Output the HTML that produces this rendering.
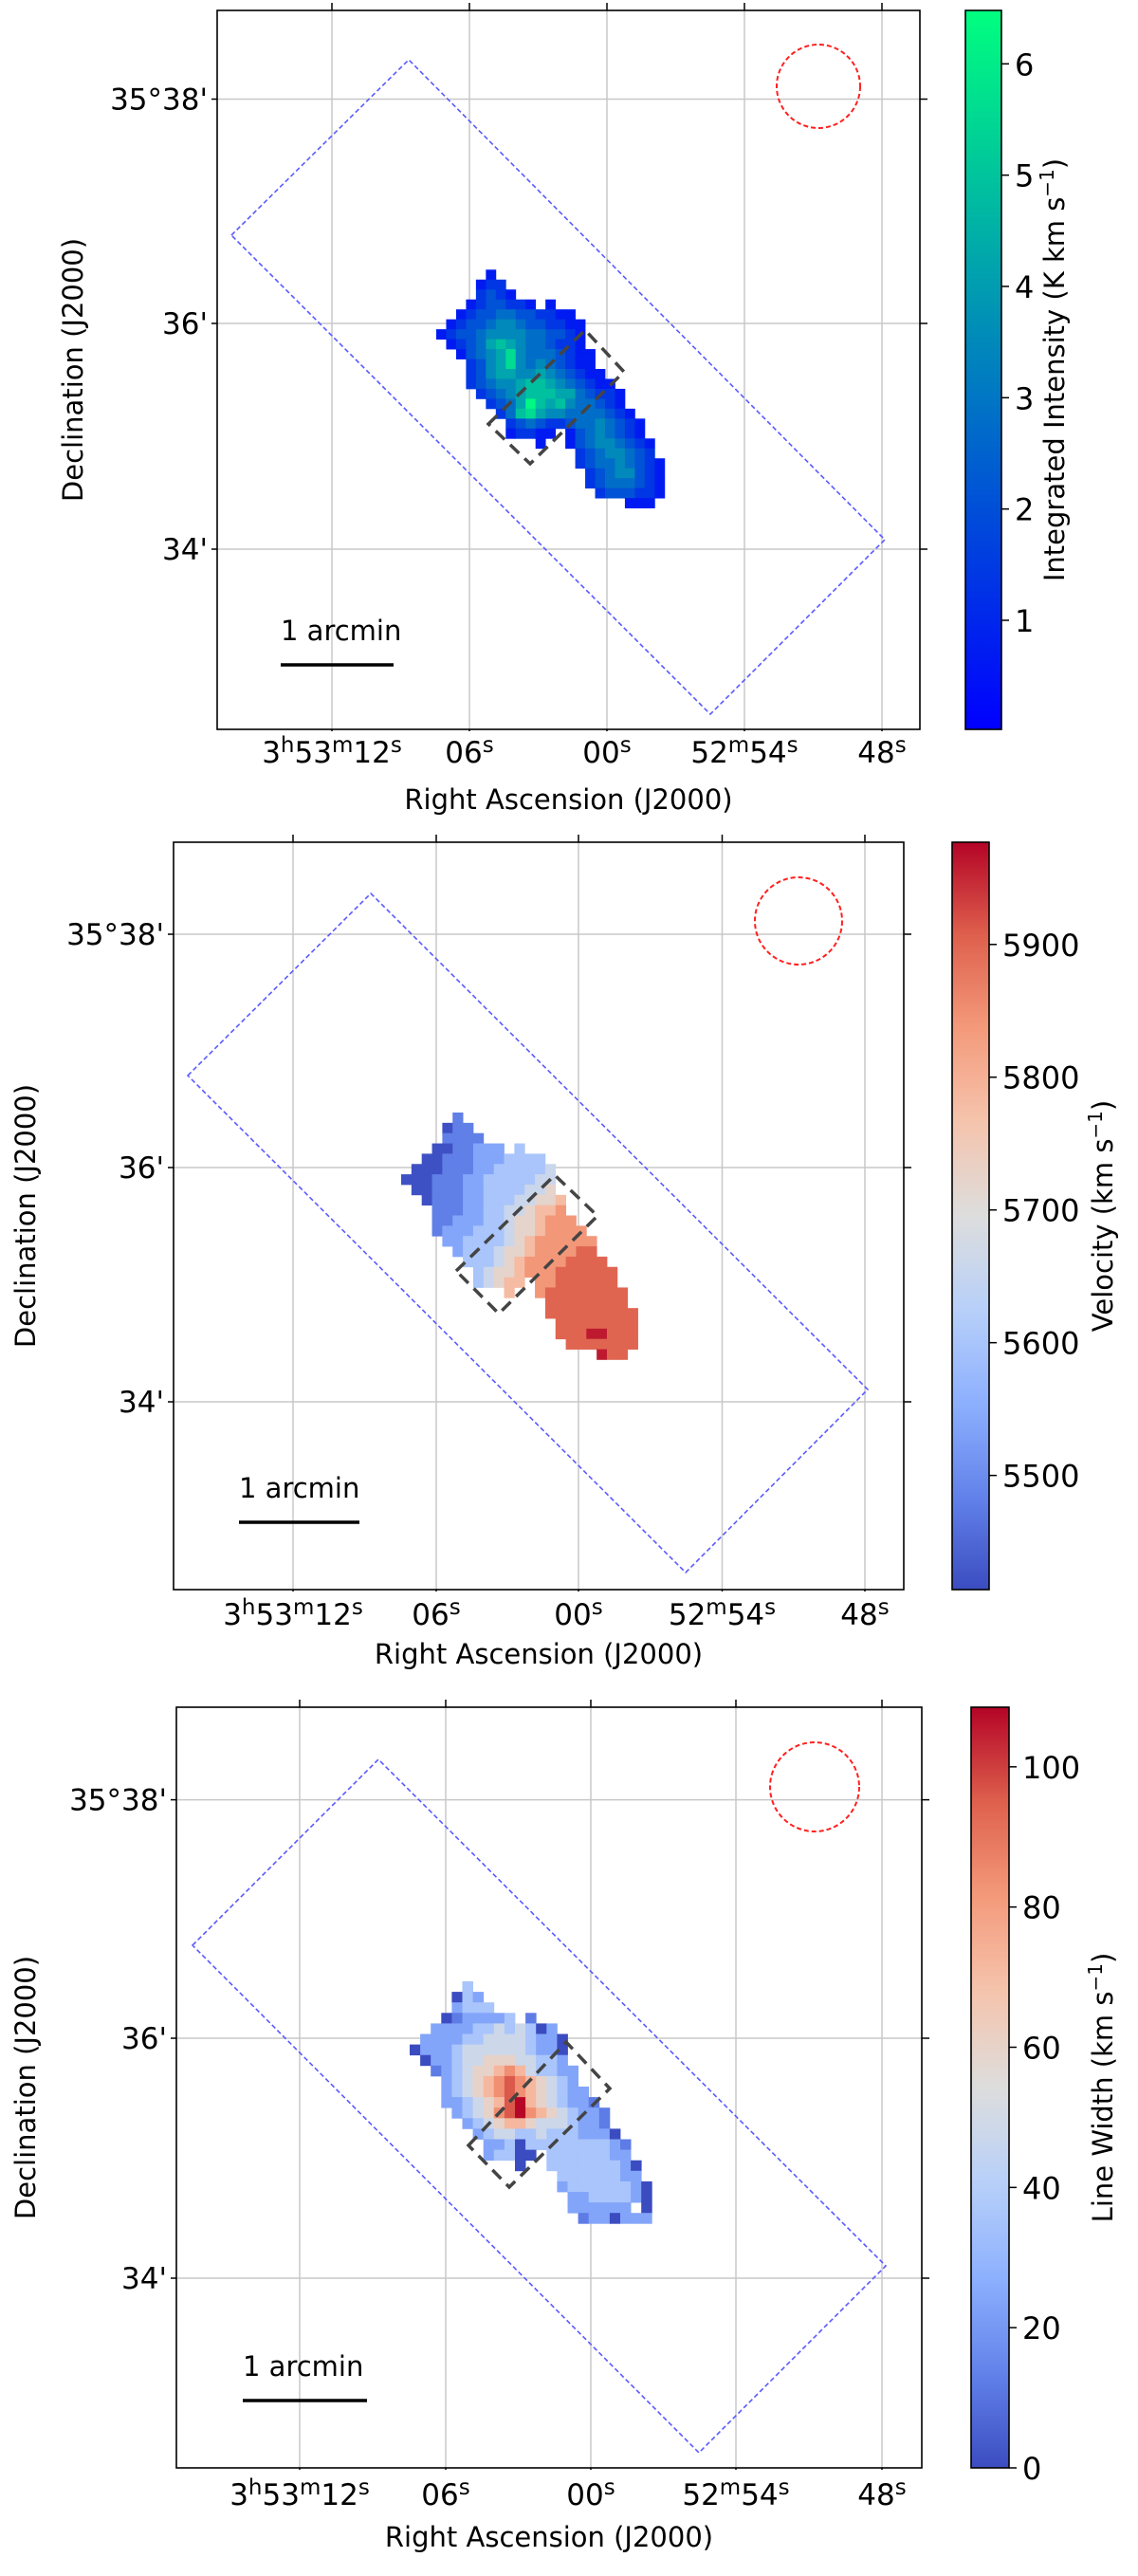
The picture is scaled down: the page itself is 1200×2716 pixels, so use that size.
<!DOCTYPE html>
<html><head><meta charset="utf-8">
<style>
html,body{margin:0;padding:0;background:#fff;}
svg text{font-family:"DejaVu Sans","Liberation Sans",sans-serif;fill:#000;}
</style></head>
<body>
<svg id="fig" xmlns="http://www.w3.org/2000/svg" width="1200" height="2711" viewBox="0 0 1200 2711"></svg>
<script>
// ---------- DATA ----------
const raTickLabels = ["3h53m12s","06s","00s","52m54s","48s"];
const decTickLabels = ["35°38'","36'","34'"];
// Panel 1: integrated intensity, digit d -> d*0.7 K km/s
const intensityRows = [
".....1.................",
"....122................",
"....2321...............",
"...1233221.1...........",
"..123344332211.........",
".12334554332211........",
"123345555443321........",
".12346765443221........",
"..13456854443211.......",
"...2356854543211.......",
"...23566556543211......",
"...234556776543211.....",
"....234567776643221....",
".....23469767544321....",
"......24786554444321...",
".......23432234454321..",
".......12211.13454321..",
"..........1..134554321.",
"..............23455432.",
"..............234454321",
"...............23455321",
"...............23444321",
"................2333221",
"...................111."];
const intensityStep = 0.7;
const intensityTicks = [1,2,3,4,5,6];
// Panel 2: velocity, digit d -> 5420 + d*60
const velocityRows = [
".....1.................",
"....011................",
"....1111...............",
"...0011222.3...........",
"..001112223333.........",
".00011122333334........",
"000111223333344........",
".00111223333445........",
"..01112233344556.......",
"...1112233445667.......",
"...11222334556777......",
"...122233345567777.....",
"....223333456777777....",
".....23334556777788....",
"......33345677778888...",
".......34556777888888..",
".......34566.77888888..",
"..........6..788888888.",
"..............88888888.",
"..............888888888",
"...............88888888",
"...............88899888",
"................8888888",
"...................988."];
const velocityBase = 5420, velocityStep = 60;
const velocityTicks = [5500,5600,5700,5800,5900];
// Panel 3: line width, digit d -> d*12
const widthRows = [
".....3.................",
"....032................",
"....2333...............",
"...0122223.1...........",
"..222233434302.........",
".22223344443220........",
"022234444443220........",
".02234455544332........",
"..12345567643322.......",
"...2345678765432.......",
"...23456787654322......",
"...223456896543221.....",
"....234578976543221....",
".....23456654443221....",
"......23443343332220...",
".......22303333333321..",
".......23300.33333322..",
"..........0..333333320.",
"..............33333322.",
"..............233333320",
"...............22333320",
"...............222222.0",
"................1220222",
"......................."];
const widthStep = 12;
const widthTicks = [0,20,40,60,80,100];

// ---------- COLORMAPS ----------
function winter(t){t=Math.max(0,Math.min(1,t));return [0,Math.round(255*t),Math.round(255*(1-0.5*t))];}
const cw=[[59,76,192],[98,130,234],[141,176,254],[184,208,249],[221,221,221],[245,196,173],[244,154,123],[222,96,77],[180,4,38]];
function coolwarm(t){t=Math.max(0,Math.min(1,t));const f=t*8,i=Math.min(7,Math.floor(f)),u=f-i;return cw[i].map((c,k)=>Math.round(c+(cw[i+1][k]-c)*u));}
const rgb=c=>`rgb(${c[0]},${c[1]},${c[2]})`;

// ---------- PANELS ----------
const panels=[
{key:"intensity",rows:intensityRows,val:d=>d*intensityStep,cmap:winter,vmin:0.02,vmax:6.48,ticks:intensityTicks,
 ax:[229,11,970,769],ra:[350,495,640,785,930],dec:[104.5,341,579],px:10.47,x0:460,y0:284.3,
 cb:[1018,11,1056,769],blue:[[244,248],[431,63],[933,569],[749,753]],circ:[863,91,44],
 box:[[515,447],[617,348],[658,392],[559,489]],bar:[296,415,701],ylx:77,tly:804,xly:853,cblx:1112,
 cblabel:["Integrated Intensity (K km s","−1",")"]},
{key:"velocity",rows:velocityRows,val:d=>velocityBase+d*velocityStep,cmap:coolwarm,vmin:5414,vmax:5977,ticks:velocityTicks,
 ax:[183,888,953,1676],ra:[309,460,610,761.5,912],dec:[985,1231,1478],px:10.85,x0:423,y0:1173,
 cb:[1004,888,1043,1676],blue:[[198,1134],[391,942],[915,1465],[723,1658]],circ:[842,971,46],
 box:[[481,1340],[585,1239],[630,1282],[526,1385]],bar:[252,379,1605],ylx:27,tly:1713,xly:1754,cblx:1163,
 cblabel:["Velocity (km s","−1",")"]},
{key:"linewidth",rows:widthRows,val:d=>d*widthStep,cmap:coolwarm,vmin:0,vmax:108.5,ticks:widthTicks,
 ax:[186,1800,972,2602],ra:[316,470,623,776,930],dec:[1897.6,2149,2402],px:11.1,x0:432,y0:2089,
 cb:[1024,1800,1064,2602],blue:[[203,2051],[399,1855],[934,2389],[737,2586]],circ:[859,1884,47],
 box:[[494,2262],[597,2153],[643,2202],[537,2306]],bar:[256,387,2531],ylx:27,tly:2641,xly:2685,cblx:1163,
 cblabel:["Line Width (km s","−1",")"]}
];

const NS="http://www.w3.org/2000/svg";
const svg=document.getElementById("fig");
function mk(tag,attrs,parent){const e=document.createElementNS(NS,tag);for(const k in attrs)e.setAttribute(k,attrs[k]);(parent||svg).appendChild(e);return e;}
const defs=mk("defs",{});

panels.forEach((P,pi)=>{
  const g=mk("g",{});
  
  
  const [L,T,R,B]=P.ax;
  const clipId="clip"+pi;
  const cp=mk("clipPath",{id:clipId},defs);mk("rect",{x:L,y:T,width:R-L,height:B-T},cp);
  P.ra.forEach(x=>{const l=mk("line",{x1:x,y1:T,x2:x,y2:B,stroke:"#c8c8c8","stroke-width":1.5},g);
    
    
    mk("line",{x1:x,y1:T,x2:x,y2:T-8,stroke:"#000","stroke-width":1.5},g);
    mk("line",{x1:x,y1:B,x2:x,y2:B+2,stroke:"#000","stroke-width":1.5},g);});
  P.dec.forEach(y=>{const l=mk("line",{x1:L,y1:y,x2:R,y2:y,stroke:"#c8c8c8","stroke-width":1.5},g);
    
    
    mk("line",{x1:L,y1:y,x2:L-6,y2:y,stroke:"#000","stroke-width":1.5},g);
    mk("line",{x1:R,y1:y,x2:R+8,y2:y,stroke:"#000","stroke-width":1.5},g);});
  const pg=mk("g",{"clip-path":`url(#${clipId})`},g);
  
  
  P.rows.forEach((row,r)=>{for(let c=0;c<row.length;c++){const ch=row[c];if(ch===".")continue;
    const v=P.val(+ch);const t=(v-P.vmin)/(P.vmax-P.vmin);
    const e=mk("rect",{x:(P.x0+c*P.px).toFixed(2),y:(P.y0+r*P.px).toFixed(2),width:(P.px+0.4).toFixed(2),height:(P.px+0.4).toFixed(2),fill:rgb(P.cmap(t))},pg);
    
    }});
  const bp=mk("polygon",{points:P.blue.map(p=>p.join(",")).join(" "),fill:"none",stroke:"#5a5aff","stroke-width":1.6,"stroke-dasharray":"5,3"},g);
  
  
  const bx=mk("polygon",{points:P.box.map(p=>p.join(",")).join(" "),fill:"none",stroke:"#444","stroke-width":3.5,"stroke-dasharray":"13,8"},g);
  
  
  const ci=mk("circle",{cx:P.circ[0],cy:P.circ[1],r:P.circ[2],fill:"none",stroke:"#ff2020","stroke-width":2,"stroke-dasharray":"5,3"},g);
  
  
  const sb=mk("line",{x1:P.bar[0],y1:P.bar[2],x2:P.bar[1],y2:P.bar[2],stroke:"#000","stroke-width":3.5},g);
  
  
  const st=mk("text",{x:P.bar[0],y:P.bar[2]-26,"font-size":29},g);st.textContent="1 arcmin";
  
  
  mk("rect",{x:L,y:T,width:R-L,height:B-T,fill:"none",stroke:"#000","stroke-width":1.6},g);
  raTickLabels.forEach((lab,i)=>{const t=mk("text",{x:P.ra[i],y:P.tly,"font-size":31,"text-anchor":"middle"},g);
    
    
    const parts=lab.match(/\d+|[hms]/g);
    parts.forEach(p=>{const s=mk("tspan",{},t);
      if(/[hms]/.test(p)){s.setAttribute("font-size","23");s.setAttribute("dy","-11");}
      else if(s.previousSibling){s.setAttribute("dy","11");}
      s.textContent=p;});
  });
  decTickLabels.forEach((lab,i)=>{const t=mk("text",{x:L-10,y:P.dec[i]+11,"font-size":31,"text-anchor":"end"},g);
    t.textContent=lab;
    
    });
  const xl=mk("text",{x:(L+R)/2,y:P.xly,"font-size":29,"text-anchor":"middle"},g);xl.textContent="Right Ascension (J2000)";
  
  
  const yc=(T+B)/2;
  const yl=mk("text",{x:0,y:0,"font-size":29,"text-anchor":"middle",transform:`translate(${P.ylx+10},${yc}) rotate(-90)`},g);yl.textContent="Declination (J2000)";
  
  
  const [cL,cT,cR,cB]=P.cb;
  const gid="grad"+pi;const lg=mk("linearGradient",{id:gid,x1:0,y1:1,x2:0,y2:0},defs);
  for(let k=0;k<=32;k++){mk("stop",{offset:(k/32).toFixed(4),"stop-color":rgb(P.cmap(k/32))},lg);}
  const cr=mk("rect",{x:cL,y:cT,width:cR-cL,height:cB-cT,fill:`url(#${gid})`,stroke:"#000","stroke-width":1.6},g);
  
  
  const cy=v=>cB-(v-P.vmin)/(P.vmax-P.vmin)*(cB-cT);
  P.ticks.forEach(v=>{const y=cy(v);mk("line",{x1:cR,y1:y,x2:cR+8,y2:y,stroke:"#000","stroke-width":1.5},g);
    const t=mk("text",{x:cR+14,y:y+12,"font-size":32},g);t.textContent=String(v);
    
    });
  const ct=mk("text",{x:0,y:0,"font-size":29,"text-anchor":"middle",transform:`translate(${P.cblx+10},${(cT+cB)/2}) rotate(-90)`},g);
  
  
  const a=mk("tspan",{},ct);a.textContent=P.cblabel[0];
  const b=mk("tspan",{"font-size":20,dy:-11},ct);b.textContent=P.cblabel[1];
  const c=mk("tspan",{dy:11},ct);c.textContent=P.cblabel[2];
});
</script>
</body></html>
